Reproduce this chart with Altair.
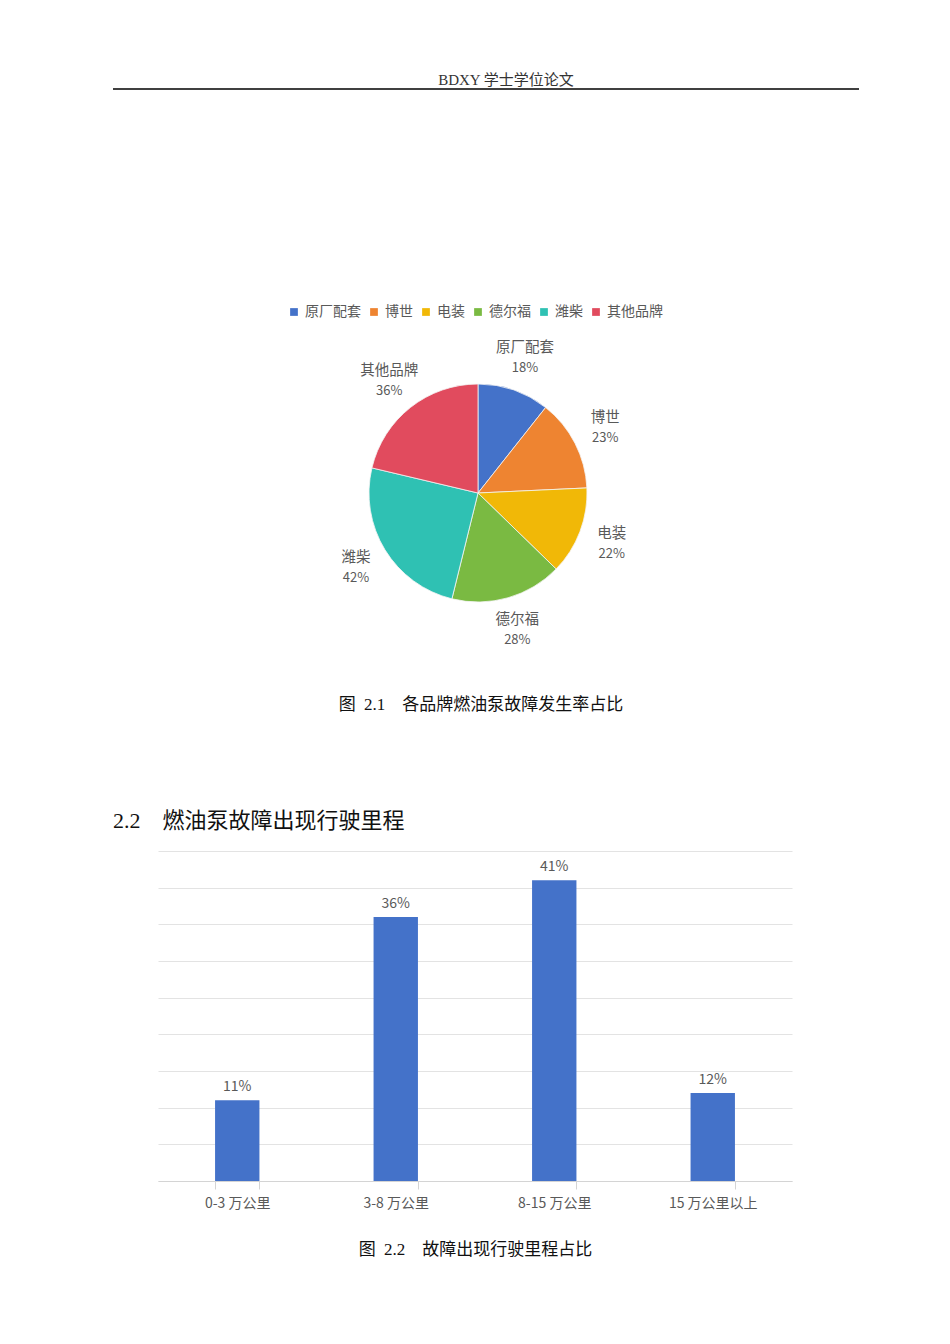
import altair as alt
import pandas as pd

# ---- data ----
brands = ["原厂配套", "博世", "电装", "德尔福", "潍柴", "其他品牌"]
brand_pct = [18, 23, 22, 28, 42, 36]
brand_colors = ["#4472C9", "#EE8431", "#F1B807", "#7ABA42", "#2FC1B3", "#E14B5E"]

mileage = ["0-3 万公里", "3-8 万公里", "8-15 万公里", "15 万公里以上"]
mileage_pct = [11, 36, 41, 12]

NB = "\u00a0"
header_text = "BDXY 学士学位论文"
caption1 = "图" + NB * 2 + "2.1" + NB * 4 + "各品牌燃油泵故障发生率占比"
section_title = "2.2" + NB * 4 + "燃油泵故障出现行驶里程"
caption2 = "图" + NB * 2 + "2.2" + NB * 4 + "故障出现行驶里程占比"

SANS = "Noto Sans CJK SC, Noto Sans, sans-serif"
SERIF = "Liberation Serif, Noto Sans CJK SC, serif"
LABEL_GRAY = "#595959"

pie_df = pd.DataFrame({
    "brand": brands,
    "value": brand_pct,
    "order": list(range(len(brands))),
    "pct": [f"{v}%" for v in brand_pct],
})
bar_df = pd.DataFrame({
    "range": mileage,
    "value": mileage_pct,
    "label": [f"{v}%" for v in mileage_pct],
})

W_A, H_A = 934, 843
CX, CY = 470, 485

# ---- panel A: header, pie, caption, section title ----
one = pd.DataFrame({"t": [0]})

header = alt.Chart(one).mark_text(
    text=header_text, font=SERIF, fontSize=15, color="#333333"
).encode(x=alt.value(498), y=alt.value(72))

header_rule = alt.Chart(one).mark_rule(color="#404040", strokeWidth=2).encode(
    x=alt.value(105), x2=alt.value(851), y=alt.value(81)
)

base = alt.Chart(pie_df).encode(
    theta=alt.Theta("value:Q", stack=True),
    order=alt.Order("order:Q"),
    x=alt.value(CX),
    y=alt.value(CY),
)

pie = base.mark_arc(outerRadius=109, stroke="#f4f4f4", strokeWidth=0.8).encode(
    color=alt.Color(
        "brand:N",
        scale=alt.Scale(domain=brands, range=brand_colors),
        sort=brands,
        legend=alt.Legend(
            title=None,
            orient="none",
            direction="horizontal",
            legendX=279,
            legendY=297,
            symbolType="square",
            symbolSize=60,
            symbolStrokeWidth=0,
            labelFontSize=14,
            labelFont=SANS,
            labelColor=LABEL_GRAY,
            labelOffset=4,
            columnPadding=6,
        ),
    )
)

name_text = base.mark_text(
    radius=143, dy=-10, font=SANS, fontSize=14.5, color=LABEL_GRAY
).encode(text="brand:N")
pct_text = base.mark_text(
    radius=143, dy=10, font=SANS, fontSize=13, color=LABEL_GRAY
).encode(text="pct:N")

cap1 = alt.Chart(one).mark_text(
    text=caption1, font=SERIF, fontSize=17, color="#111111"
).encode(x=alt.value(473), y=alt.value(697))

sec = alt.Chart(one).mark_text(
    text=section_title, font=SERIF, fontSize=22, color="#111111", align="left"
).encode(x=alt.value(105), y=alt.value(813))

panel_a = alt.layer(header, header_rule, pie, name_text, pct_text, cap1, sec).properties(
    width=W_A, height=H_A
)

# ---- panel B: bar chart ----
bar_base = alt.Chart(bar_df).encode(
    x=alt.X(
        "range:N",
        sort=mileage,
        scale=alt.Scale(paddingInner=0.72, paddingOuter=0.36),
        axis=alt.Axis(
            title=caption2,
            titleFont=SERIF,
            titleFontSize=17,
            titleFontWeight="normal",
            titleColor="#111111",
            titlePadding=31,
            labelAngle=0,
            labelFont=SANS,
            labelFontSize=14,
            labelColor=LABEL_GRAY,
            labelPadding=7,
            tickBand="extent",
            tickSize=8,
            tickColor="#d4d4d4",
            domainColor="#d4d4d4",
            grid=False,
        ),
    ),
    y=alt.Y(
        "value:Q",
        scale=alt.Scale(domain=[0, 45], nice=False),
        axis=alt.Axis(
            values=list(range(0, 50, 5)),
            labels=False,
            ticks=False,
            domain=False,
            title=None,
            grid=True,
            gridColor="#e3e3e3",
            gridWidth=1,
        ),
    ),
)

bars = bar_base.mark_bar(color="#4472C9")
bar_labels = bar_base.mark_text(
    baseline="bottom", dy=-6, font=SANS, fontSize=14, color=LABEL_GRAY
).encode(text="label:N")

panel_b = alt.layer(bars, bar_labels).properties(width=634, height=330)

chart = alt.vconcat(panel_a, panel_b, spacing=0, center=True).properties(
    padding=0, background="white"
).configure_view(stroke=None, strokeWidth=0)

chart.save("out.html", embed_options={"renderer": "svg", "actions": False})
